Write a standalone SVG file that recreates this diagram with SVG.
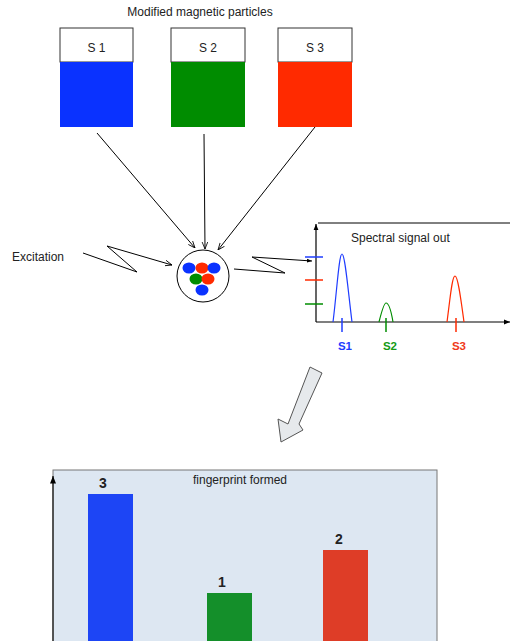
<svg xmlns="http://www.w3.org/2000/svg" width="510" height="641" viewBox="0 0 510 641">
<defs>
<marker id="ah" viewBox="0 0 10 10" refX="10" refY="5" markerWidth="7" markerHeight="7" orient="auto"><path d="M0,1 L10,5 L0,9" fill="none" stroke="#000" stroke-width="1.2"/></marker>
<marker id="ahs" viewBox="0 0 10 10" refX="10" refY="5" markerWidth="5" markerHeight="5" orient="auto"><path d="M0,1 L10,5 L0,9 z" fill="#000"/></marker>
</defs>
<style>
text{font-family:"Liberation Sans",Arial,sans-serif;}
.t{font-size:12px;fill:#222;}
.box{stroke:#333;stroke-width:1;}
.c{stroke:#000;stroke-width:1;fill:none;}
.lb{font-size:11.5px;font-weight:bold;}
.n{font-size:14px;font-weight:bold;fill:#222;}
</style>
<rect width="510" height="641" fill="#fff"/>
<text class="t" x="200" y="16" text-anchor="middle">Modified magnetic particles</text>
<g id="s1">
<rect x="60" y="28" width="73" height="34" fill="#fff" class="box"/>
<rect x="60" y="62" width="73" height="65" fill="#0A32FF"/>
<text x="96.5" y="52" font-size="12" text-anchor="middle" fill="#222">S 1</text>
</g>
<g id="s2">
<rect x="171" y="28" width="74" height="34" fill="#fff" class="box"/>
<rect x="171" y="62" width="74" height="65" fill="#008C00"/>
<text x="208" y="52" font-size="12" text-anchor="middle" fill="#222">S 2</text>
</g>
<g id="s3">
<rect x="278" y="28" width="74" height="34" fill="#fff" class="box"/>
<rect x="278" y="62" width="74" height="65" fill="#FF2A00"/>
<text x="315" y="52" font-size="12" text-anchor="middle" fill="#222">S 3</text>
</g>
<g id="excitation">
<text class="t" x="12" y="261">Excitation</text>
</g>
<g id="particle">
<circle cx="203" cy="276" r="26" fill="#fff" stroke="#000" stroke-width="1"/>
<ellipse cx="189" cy="268" rx="6.5" ry="5.5" fill="#0A32FF"/>
<ellipse cx="202" cy="268" rx="6.5" ry="5.5" fill="#FF2A00"/>
<ellipse cx="214" cy="268" rx="6.5" ry="5.5" fill="#0A32FF"/>
<ellipse cx="196" cy="279" rx="6.5" ry="5.5" fill="#008C00"/>
<ellipse cx="208" cy="279" rx="6.5" ry="5.5" fill="#FF2A00"/>
<ellipse cx="202" cy="290" rx="6.5" ry="5.5" fill="#0A32FF"/>
</g>
<g id="connectors">
<line class="c" x1="97" y1="133" x2="195" y2="248" marker-end="url(#ah)"/>
<line class="c" x1="204" y1="134" x2="205" y2="249" marker-end="url(#ah)"/>
<line class="c" x1="315" y1="127" x2="218" y2="250" marker-end="url(#ah)"/>
<polyline class="c" points="83,253 137,272 107,246 172,265" marker-end="url(#ah)"/>
<polyline class="c" points="234,269 285,273 252,257 312,261" marker-end="url(#ahs)"/>
</g>
<g id="spectrum">
<line x1="316" y1="322" x2="316" y2="224" stroke="#000" stroke-width="1.2" marker-end="url(#ahs)"/>
<line x1="316" y1="322" x2="510" y2="322" stroke="#000" stroke-width="1.2" marker-end="url(#ahs)"/>
<line x1="318" y1="223" x2="510" y2="223" stroke="#000" stroke-width="1"/>
<text class="t" x="351" y="242">Spectral signal out</text>
<line x1="305" y1="257" x2="323" y2="257" stroke="#1E3CFF" stroke-width="1.5"/>
<line x1="305" y1="280" x2="323" y2="280" stroke="#FF2A00" stroke-width="1.5"/>
<line x1="305" y1="304" x2="323" y2="304" stroke="#008C00" stroke-width="1.5"/>
<path d="M333,322 C337,290 339,254 342,254 C345,254 348,290 352,322" fill="none" stroke="#1E3CFF" stroke-width="1.2"/>
<path d="M379,322 C382,310 384,303 386,303 C389,303 391,310 393,322" fill="none" stroke="#008C00" stroke-width="1.2"/>
<path d="M447,322 C450,300 452,276 455,276 C458,276 461,300 464,322" fill="none" stroke="#FF2A00" stroke-width="1.2"/>
<line x1="342" y1="318" x2="342" y2="332" stroke="#1E3CFF" stroke-width="1.5"/>
<line x1="386" y1="318" x2="386" y2="332" stroke="#008C00" stroke-width="1.5"/>
<line x1="456" y1="318" x2="456" y2="332" stroke="#FF2A00" stroke-width="1.5"/>
<text class="lb" x="345" y="350" text-anchor="middle" fill="#1E3CFF">S1</text>
<text class="lb" x="390" y="350" text-anchor="middle" fill="#159A15">S2</text>
<text class="lb" x="459" y="350" text-anchor="middle" fill="#F03A1A">S3</text>
</g>
<g id="bigarrow">
<polygon points="310,367 322,373 299,424 303,430 281,442 278,419 288,424" fill="#E6E9EC" stroke="#555" stroke-width="1"/>
</g>
<g id="fingerprint">
<rect x="53" y="470" width="384" height="180" fill="#DDE7F2" stroke="#777" stroke-width="1"/>
<line x1="53" y1="641" x2="53" y2="476" stroke="#333" stroke-width="1.5" marker-end="url(#ahs)"/>
<text class="t" x="240" y="484" text-anchor="middle">fingerprint formed</text>
<rect x="88" y="494" width="45" height="150" fill="#1D45F5"/>
<rect x="207" y="593" width="45" height="50" fill="#148F2A"/>
<rect x="323" y="550" width="45" height="95" fill="#DE3D27"/>
<text class="n" x="103" y="488" text-anchor="middle">3</text>
<text class="n" x="222" y="587" text-anchor="middle">1</text>
<text class="n" x="339" y="544" text-anchor="middle">2</text>
</g>
</svg>
